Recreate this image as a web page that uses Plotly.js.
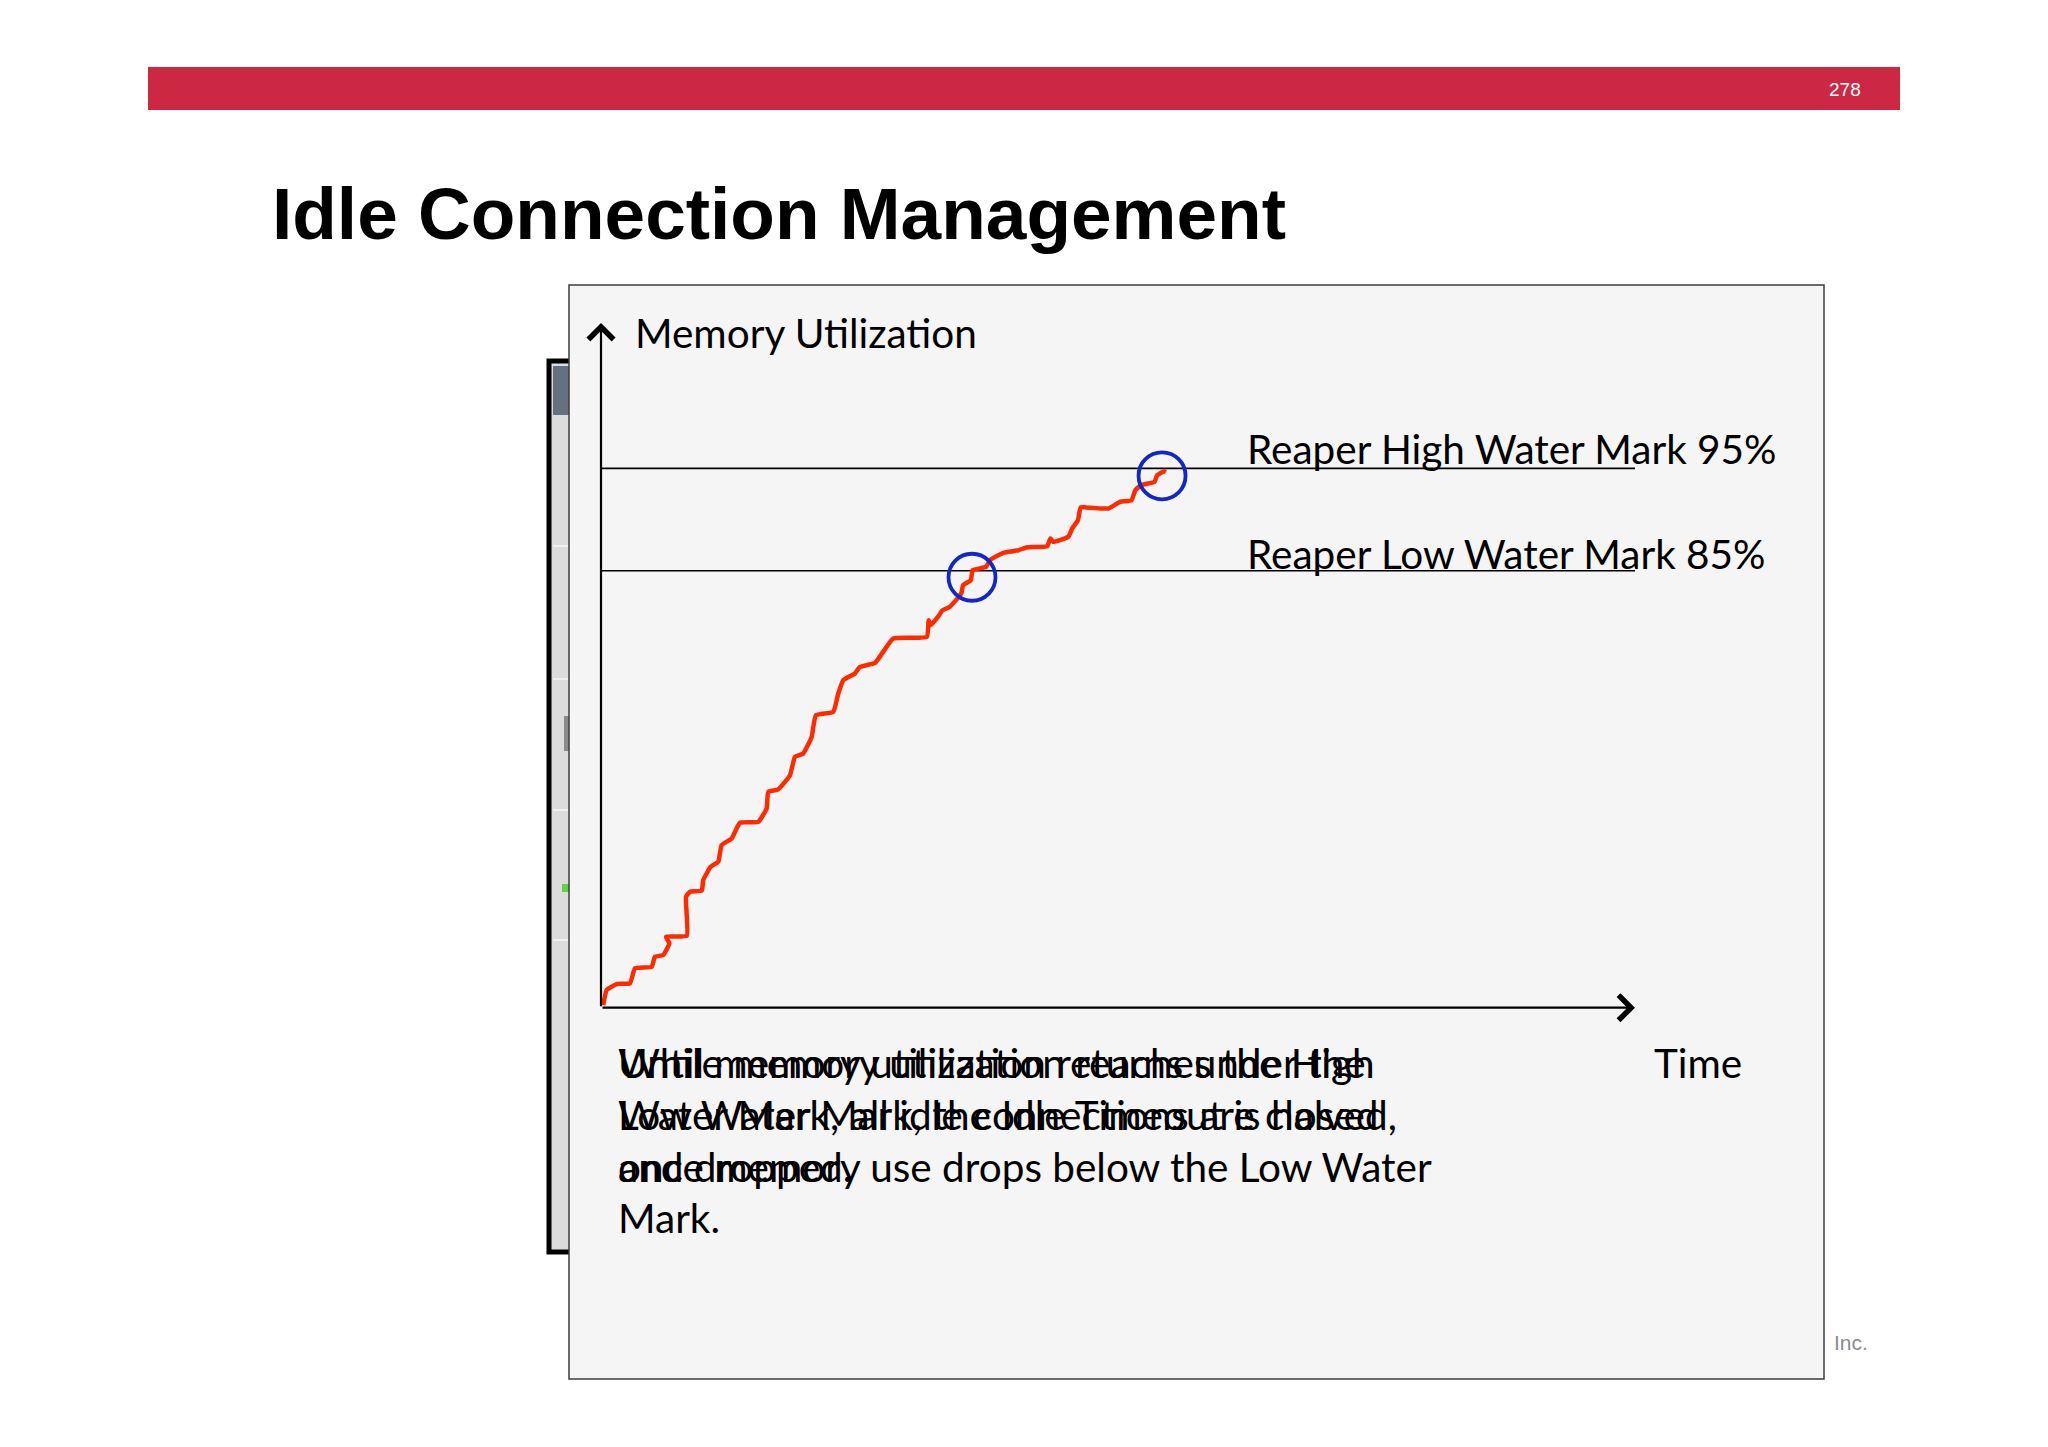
<!DOCTYPE html>
<html>
<head>
<meta charset="utf-8">
<script src="https://cdn.plot.ly/plotly-3.0.1.min.js"></script>
<style>html,body{margin:0;padding:0;background:#fff;}#chart{width:2048px;height:1447px;}</style>
</head>
<body>
<div id="chart"></div>
<script>
// ---- data (time in arbitrary units 0-100, memory utilization in %) ----
const timeVals = [0.22,0.55,1.52,2.80,3.29,4.90,5.22,6.03,6.61,6.29,8.29,8.22,8.61,9.74,9.89,10.61,11.34,11.67,12.64,13.44,15.21,16.02,16.18,17.14,18.28,18.76,19.56,20.37,20.79,22.46,22.95,23.43,24.56,25.05,26.50,28.27,31.51,31.69,31.88,32.60,33.00,33.73,34.84,35.02,35.76,35.95,37.24,37.61,38.91,40.39,41.13,43.16,43.46,43.72,45.20,45.57,46.13,46.38,46.87,49.09,50.20,51.31,51.68,52.23,53.53,53.79,54.46,54.64];
const memoryVals = [42.56,44.03,44.61,44.68,46.15,46.30,47.28,47.45,48.59,49.23,49.33,53.14,53.63,53.73,54.77,56.07,56.56,58.19,58.84,60.37,60.46,61.77,63.39,63.63,65.02,66.81,67.14,68.76,70.88,71.21,73.00,74.30,74.96,75.60,75.99,78.37,78.53,80.16,79.67,80.50,81.10,81.46,82.77,83.58,84.07,85.05,85.37,86.03,86.74,87.00,87.27,87.40,88.15,87.82,88.31,89.13,89.94,91.18,91.18,91.08,91.73,91.89,92.87,93.36,93.68,94.33,94.72,94.65];
const thresholdNames = ["Reaper High Water Mark", "Reaper Low Water Mark"];
const thresholdVals = [95, 85];
const markTimes = [35.88, 54.26];
const markMemory = [84.36, 94.27];
const timeRange = [0, 100];
const memRange = [42.3, 109.2];
const slideTitle = "Idle Connection Management";
const pageNumber = "278";
const yAxisLabel = "Memory Utilization";
const xAxisLabel = "Time";
const textA = ["While memory utilization reaches the High", "Water Mark, all idle connections are closed", "and dropped."];
const textB = ["Until memory utilization returns under the", "Low Water Mark, the Idle Timeout is halved,", "once memory use drops below the Low Water", "Mark."];

// ---- layout helpers (pixel -> paper) ----
const W = 2048, H = 1447;
const px = x => x / W;
const py = y => 1 - y / H;

const traces = [];
thresholdVals.forEach(v => {
  traces.push({x: timeRange, y: [v, v], mode: 'lines', line: {color: '#000', width: 1.6}, hoverinfo: 'skip', showlegend: false});
});
traces.push({x: timeVals, y: memoryVals, mode: 'lines', line: {color: '#ff2a00', width: 4.5, shape: 'spline', smoothing: 0.4}, hoverinfo: 'skip', showlegend: false});
traces.push({x: markTimes, y: markMemory, mode: 'markers', marker: {symbol: 'circle-open', size: 47, color: '#1426c8', line: {width: 3.8}}, hoverinfo: 'skip', showlegend: false});

const chartFont = {family: 'Lato, "Open Sans", sans-serif', size: 40.5, color: '#000'};
const ann = [];
// axes drawn as arrows
ann.push({x: timeRange[1], y: memRange[0], ax: timeRange[0], ay: memRange[0], xref: 'x', yref: 'y', axref: 'x', ayref: 'y', text: '', showarrow: true, arrowhead: 4, arrowsize: 2.2, arrowwidth: 2.2, arrowcolor: '#000', standoff: 0, startstandoff: 0});
ann.push({x: timeRange[0], y: memRange[1], ax: timeRange[0], ay: memRange[0], xref: 'x', yref: 'y', axref: 'x', ayref: 'y', text: '', showarrow: true, arrowhead: 4, arrowsize: 2.2, arrowwidth: 2.2, arrowcolor: '#000', standoff: 0, startstandoff: 0});
ann.push({x: px(633), y: py(333), xref: 'paper', yref: 'paper', xanchor: 'left', yanchor: 'middle', text: yAxisLabel, showarrow: false, font: chartFont});
ann.push({x: px(1652), y: py(1062), xref: 'paper', yref: 'paper', xanchor: 'left', yanchor: 'middle', text: xAxisLabel, showarrow: false, font: chartFont});
const labelY = [449, 554];
thresholdNames.forEach((n, i) => {
  ann.push({x: px(1245), y: py(labelY[i]), xref: 'paper', yref: 'paper', xanchor: 'left', yanchor: 'middle', text: n + ' ' + thresholdVals[i] + '%', showarrow: false, font: chartFont});
});
const lineY = [1062, 1114, 1166, 1217];
[textA, textB].forEach(arr => arr.forEach((t, i) => {
  ann.push({x: px(616), y: py(lineY[i]), xref: 'paper', yref: 'paper', xanchor: 'left', yanchor: 'middle', text: t, showarrow: false, font: chartFont});
}));
ann.push({x: px(270), y: py(214), xref: 'paper', yref: 'paper', xanchor: 'left', yanchor: 'middle', text: '<b>' + slideTitle + '</b>', showarrow: false, font: {family: '"Liberation Sans", Arial, sans-serif', size: 73, color: '#000'}});
ann.push({x: px(1845), y: py(89), xref: 'paper', yref: 'paper', xanchor: 'center', yanchor: 'middle', text: pageNumber, showarrow: false, font: {family: '"Liberation Sans", Arial, sans-serif', size: 19, color: '#fff'}});
ann.push({x: px(1832), y: py(1342), xref: 'paper', yref: 'paper', xanchor: 'left', yanchor: 'middle', text: 'Inc.', showarrow: false, font: {family: '"Liberation Sans", Arial, sans-serif', size: 21, color: '#8c8c8c'}});

const rect = (x0, y0, x1, y1, fill, lc, lw) => ({type: 'rect', xref: 'paper', yref: 'paper', x0: px(x0), x1: px(x1), y0: py(y1), y1: py(y0), fillcolor: fill, line: {color: lc || 'rgba(0,0,0,0)', width: lw || 0}, layer: 'below'});
const shapes = [
  rect(148, 67, 1900, 110, '#cc2843'),
  // window frame partly hidden behind the chart panel
  rect(549, 361, 640, 1252, '#dcdcdc', '#000', 5),
  rect(553, 366, 640, 415, '#637181'),
  rect(553, 545, 640, 547, '#f0f0f0'),
  rect(553, 678, 640, 680, '#f0f0f0'),
  rect(553, 809, 640, 811, '#f0f0f0'),
  rect(553, 939, 640, 941, '#f0f0f0'),
  rect(564, 716, 640, 751, '#8a8a8a'),
  rect(562, 884, 640, 892, '#5fd34a'),
  // chart panel
  rect(569, 285, 1824, 1379, '#f5f5f5', '#3c3c3c', 1.5)
];

const layout = {
  width: W, height: H,
  margin: {l: 0, r: 0, t: 0, b: 0},
  paper_bgcolor: '#fff', plot_bgcolor: 'rgba(0,0,0,0)',
  xaxis: {domain: [px(601), px(1635)], range: timeRange, visible: false},
  yaxis: {domain: [py(1007.7), py(323)], range: memRange, visible: false},
  shapes: shapes, annotations: ann, showlegend: false
};
Plotly.newPlot('chart', traces, layout, {staticPlot: true});
</script>
</body>
</html>
